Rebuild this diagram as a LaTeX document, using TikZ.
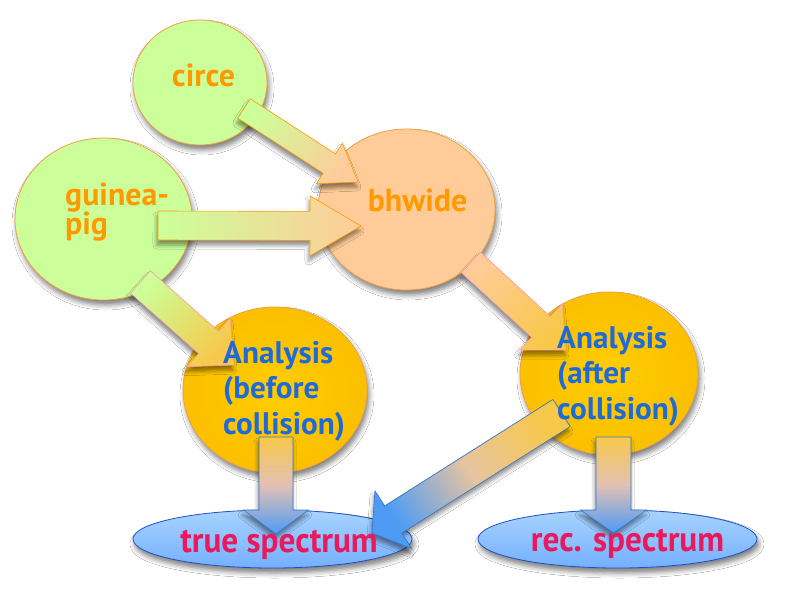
\documentclass[tikz,border=0pt]{standalone}
\usepackage{fontspec}
\setmainfont{PT Sans}
\newfontfamily\specfont{PT Sans}[FakeStretch=0.94]
\usetikzlibrary{calc,shapes.geometric,shadows.blur}
\definecolor{cgreen}{HTML}{CCFF99}
\definecolor{cpeach}{HTML}{FFCC99}
\definecolor{cgold}{HTML}{FFCC00}
\definecolor{cgoldrim}{HTML}{FBC000}
\definecolor{cblue}{HTML}{93C8FF}
\definecolor{cbluedark}{HTML}{74B0FF}
\definecolor{cblueline}{HTML}{2150C8}
\definecolor{corline}{HTML}{F0A040}
\definecolor{torange}{HTML}{FF9900}
\definecolor{tblue}{HTML}{1F6AD9}
\definecolor{tpink}{HTML}{E8195C}
\definecolor{apink}{HTML}{FF99AA}
\definecolor{ablue}{HTML}{3377CC}
\definecolor{agold}{HTML}{F8C84A}
\definecolor{amid}{HTML}{E2C0B4}
\definecolor{atan}{HTML}{E6C4A0}
\definecolor{ahead}{HTML}{4D9BF5}
\tikzset{
  bubble/.style={ellipse, inner sep=0pt, line width=0.8bp,
    blur shadow={shadow xshift=2bp, shadow yshift=-5bp, shadow blur radius=5bp, shadow opacity=50}},
  greenbub/.style={bubble, draw=corline, fill=cgreen},
  peachbub/.style={bubble, draw=corline, fill=cpeach},
  goldbub/.style={bubble, draw=corline, inner color=cgold, outer color=cgoldrim},
  specbub/.style={bubble, draw=cblueline, top color=cblue!80!white, bottom color=cbluedark},
  arrowbody/.style={line width=0.6bp, line join=miter,
    blur shadow={shadow xshift=-1bp, shadow yshift=-5bp, shadow blur radius=4bp, shadow opacity=45}},
  gp/.style={left color=cgreen, right color=cpeach},
  gg/.style={left color=cgreen, right color=agold},
  pg/.style={left color=cpeach, right color=agold},
  gb/.style={left color=agold, right color=ahead, middle color=amid},
  gbt/.style={left color=agold, right color=ahead, middle color=atan},
  orangetext/.style={text=torange, font=\bfseries\fontsize{32}{30}\selectfont, inner sep=0pt},
  bluetext/.style={text=tblue, font=\bfseries\fontsize{31.3}{35.5}\selectfont, inner sep=0pt, align=left},
  pinktext/.style={text=tpink, font=\specfont\bfseries\fontsize{35.5}{36}\selectfont, inner sep=0pt}
}
% #1 tail, #2 tip, #3 half shaft, #4 half head, #5 head length, #6 shading style, #7 line colour, #8 shading angle
\newcommand{\blockarrow}[8]{%
  \coordinate (neck) at ($(#2)!#5!(#1)$);
  \shade[arrowbody, #6, shading angle=#8, draw=#7]
    ($(#1)!#3!90:(#2)$) -- ($(neck)!#3!90:(#2)$) -- ($(neck)!#4!90:(#2)$) -- (#2)
    -- ($(neck)!#4!-90:(#2)$) -- ($(neck)!#3!-90:(#2)$) -- ($(#1)!#3!-90:(#2)$) -- cycle;
}
\begin{document}
\begin{tikzpicture}[x=1bp, y=-1bp]
\fill[white] (0,0) rectangle (800,590);
\useasboundingbox (0,0) rectangle (800,590);
% shapes
\node[greenbub, minimum width=134bp, minimum height=125bp] (circe) at (200,82.5) {};
\node[greenbub, minimum width=177bp, minimum height=162bp] (guinea) at (103.5,219) {};
\node[peachbub, minimum width=177bp, minimum height=161bp] (bhwide) at (406.5,209.5) {};
\node[goldbub, minimum width=184bp, minimum height=166bp] (anb) at (275,390) {};
\node[goldbub, minimum width=178bp, minimum height=163bp] (ana) at (609,373.5) {};
\node[specbub, minimum width=279bp, minimum height=58bp] (true) at (272.5,539) {};
\node[specbub, minimum width=279bp, minimum height=58bp] (rec) at (617.5,539) {};
% arrow ends
\coordinate (a1s) at (244,108.5);  \coordinate (a1e) at (358,182);
\coordinate (a2s) at (158,225.5);  \coordinate (a2e) at (361,226);
\coordinate (a3s) at (140.5,282);  \coordinate (a3e) at (234,365);
\coordinate (a4s) at (471,262.5);  \coordinate (a4e) at (566,350);
\coordinate (a5s) at (276,437);    \coordinate (a5e) at (276,534);
\coordinate (a6s) at (613.5,437);  \coordinate (a6e) at (613.5,533);
\coordinate (a7s) at (561.5,413);  \coordinate (a7e) at (372,533);
% arrows
\blockarrow{a1s}{a1e}{11.5bp}{24bp}{34bp}{gp}{torange}{57}
\blockarrow{a2s}{a2e}{14.5bp}{30bp}{51bp}{gp}{torange}{90}
\blockarrow{a3s}{a3e}{15bp}{32.5bp}{34bp}{gg}{apink}{48}
\blockarrow{a4s}{a4e}{14bp}{31.5bp}{34bp}{pg}{apink}{47}
\blockarrow{a5s}{a5e}{17bp}{32.5bp}{24bp}{gb}{ablue}{0}
\blockarrow{a6s}{a6e}{17.5bp}{33bp}{23bp}{gb}{ablue}{0}
\blockarrow{a7s}{a7e}{16bp}{34bp}{25bp}{gbt}{ablue}{-58}
% texts
\node[orangetext, anchor=base] (circe-t) at (203.5,87) {circe};
\node[orangetext, anchor=west, align=left] (guinea-t) at (65,212) {guinea-\\pig};
\node[orangetext, anchor=base] (bhwide-t) at (417.5,212) {bhwide};
\node[bluetext, anchor=west] (anb-t) at (223,391) {Analysis\\(before\\collision)};
\node[bluetext, anchor=west] (ana-t) at (557,376) {Analysis\\(after\\collision)};
\node[pinktext, anchor=base] (true-t) at (279,552) {true spectrum};
\node[pinktext, anchor=base] (rec-t) at (627.5,551) {rec. spectrum};
\end{tikzpicture}
\end{document}
